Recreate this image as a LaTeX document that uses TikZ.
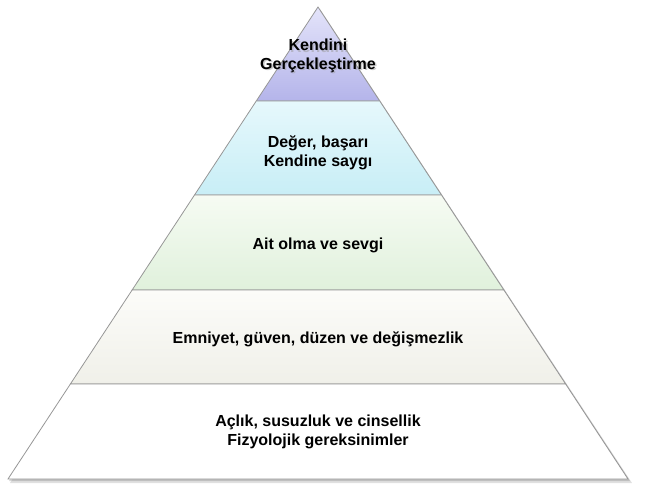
\documentclass[tikz,border=0pt]{standalone}
\usepackage{fontspec}
\setmainfont{Liberation Sans}
\usepackage{xcolor}

\definecolor{edge}{RGB}{150,150,150}
\definecolor{topA}{RGB}{228,228,250}
\definecolor{topB}{RGB}{180,180,234}
\definecolor{estA}{RGB}{230,248,252}
\definecolor{estB}{RGB}{200,238,246}
\definecolor{aitA}{RGB}{246,251,243}
\definecolor{aitB}{RGB}{224,241,220}
\definecolor{emnA}{RGB}{252,252,249}
\definecolor{emnB}{RGB}{240,240,233}

\begin{document}
\begin{tikzpicture}
  [x=1bp,y=-1bp,every node/.style={align=center,font=\bfseries\fontsize{16bp}{18.5bp}\selectfont}]
  \useasboundingbox (0,0) rectangle (645,501);

  % shadow
  \fill[black,opacity=.12] (321,11) -- (632,483) -- (10,483) -- cycle;
  \fill[black,opacity=.15] (320,9) -- (630,481) -- (9,481) -- cycle;

  \foreach \ya/\yb/\ca/\cb in {7/101/topA/topB, 101/195/estA/estB, 195/290/aitA/aitB, 290/384/emnA/emnB, 384/479/white/white}
    \shade[top color=\ca,bottom color=\cb,draw=edge,line width=.8pt]
      ({318-.6568*(\ya-7)},\ya) -- ({318+.6568*(\ya-7)},\ya) -- ({318+.6568*(\yb-7)},\yb) -- ({318-.6568*(\yb-7)},\yb) -- cycle;

  \node[text=black!40,opacity=.5] (k0) at (319.5,57.5) {Kendini\\Gerçekleştirme};
  \node (k) at (318,56) {Kendini\\Gerçekleştirme};
  \node (d) at (318,153) {Değer, başarı\\Kendine saygı};
  \node (a) at (318,245) {Ait olma ve sevgi};
  \node (e) at (318,339) {Emniyet, güven, düzen ve değişmezlik};
  \node (f) at (318,432) {Açlık, susuzluk ve cinsellik\\Fizyolojik gereksinimler};

\end{tikzpicture}
\end{document}
